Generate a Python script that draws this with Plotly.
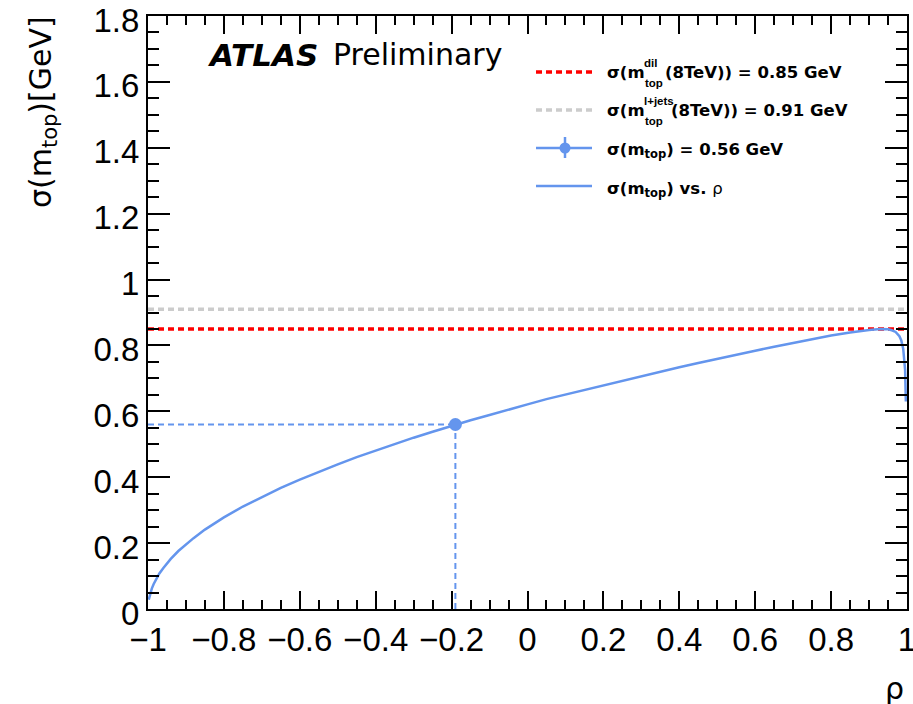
import plotly.graph_objects as go

# ---- data ----
rho = [-0.998, -0.995, -0.99, -0.985, -0.98, -0.97, -0.96, -0.94, -0.92, -0.9, -0.88, -0.85,
       -0.8, -0.75, -0.7, -0.65, -0.6, -0.55, -0.5, -0.45, -0.4, -0.35, -0.3, -0.25, -0.2,
       -0.15, -0.1, -0.05, 0.0, 0.05, 0.1, 0.15, 0.2, 0.25, 0.3, 0.35, 0.4, 0.45, 0.5, 0.55,
       0.6, 0.65, 0.7, 0.75, 0.8, 0.85, 0.88, 0.9, 0.93, 0.95, 0.96, 0.97, 0.98, 0.985, 0.99,
       0.993, 0.995, 0.997]
sigma = [0.028, 0.044, 0.062, 0.076, 0.088, 0.108, 0.124, 0.152, 0.176, 0.196, 0.215, 0.241,
         0.278, 0.311, 0.340, 0.368, 0.393, 0.417, 0.439, 0.461, 0.481, 0.501, 0.520, 0.538, 0.556,
         0.573, 0.589, 0.606, 0.621, 0.637, 0.651, 0.666, 0.680, 0.694, 0.708, 0.721, 0.734, 0.747,
         0.760, 0.772, 0.784, 0.796, 0.808, 0.819, 0.830, 0.839, 0.845, 0.847, 0.850, 0.849, 0.846,
         0.841, 0.828, 0.815, 0.790, 0.761, 0.726, 0.63]
sigma_dil = 0.85
sigma_ljets = 0.91
best_rho = -0.19
best_sigma = 0.56
x_range = [-1, 1.00001]
y_range = [0, 1.80001]

BLUE = "#6495ED"
W, H = 913, 704
L, R, T, B = 148, 907, 16, 609


def px(x):
    return (x - L) / (R - L)


def py(y):
    return (B - y) / (B - T)


fig = go.Figure()

fig.add_trace(go.Scatter(x=x_range, y=[sigma_ljets] * 2, mode="lines",
                         line=dict(color="#cccccc", width=3.5, dash="6px,4px"), showlegend=False))
fig.add_trace(go.Scatter(x=x_range, y=[sigma_dil] * 2, mode="lines",
                         line=dict(color="#ff0000", width=3.5, dash="6px,4px"), showlegend=False))
fig.add_trace(go.Scatter(x=[x_range[0], best_rho], y=[best_sigma] * 2, mode="lines",
                         line=dict(color=BLUE, width=2, dash="6px,4px"), showlegend=False))
fig.add_trace(go.Scatter(x=[best_rho, best_rho], y=[0, best_sigma], mode="lines",
                         line=dict(color=BLUE, width=2, dash="6px,4px"), showlegend=False))
fig.add_trace(go.Scatter(x=rho, y=sigma, mode="lines",
                         line=dict(color=BLUE, width=2.5), showlegend=False))
fig.add_trace(go.Scatter(x=[best_rho], y=[best_sigma], mode="markers",
                         marker=dict(color=BLUE, size=13), showlegend=False))

FONT = "DejaVu Sans, Liberation Sans, Arial, sans-serif"
SMALLF = "Liberation Sans, Arial, sans-serif"
TICKF = "Liberation Sans, Arial, Helvetica, sans-serif"
ann = []


def text(x, y, s, size, xanchor="left", yanchor="middle", angle=0, family=FONT):
    ann.append(dict(x=px(x), y=py(y), xref="paper", yref="paper", text=s, showarrow=False,
                    xanchor=xanchor, yanchor=yanchor, textangle=angle,
                    font=dict(family=family, size=size, color="black")))


# ATLAS label
text(205, 55, "<b><i>ATLAS</i></b>", 31)
text(331, 55, "Preliminary", 30)

# axis titles
text(42, 14, "σ(m<sub>top</sub>)[GeV]", 30, xanchor="center", yanchor="top", angle=-90)
text(906, 688, "ρ", 30, xanchor="right")

# legend (manual)
shapes = []


def seg(x0, y0, x1, y1, color, width, dash="solid"):
    shapes.append(dict(type="line", xref="paper", yref="paper", x0=px(x0), y0=py(y0),
                       x1=px(x1), y1=py(y1), line=dict(color=color, width=width, dash=dash)))


seg(536, 72, 592, 72, "#ff0000", 3.5, "6px,4px")
seg(536, 110, 592, 110, "#cccccc", 3.5, "6px,4px")
seg(536, 148, 592, 148, BLUE, 2.5)
seg(565, 137, 565, 158, BLUE, 2.5)
shapes.append(dict(type="circle", xref="paper", yref="paper", x0=px(559.5), x1=px(570.5),
                   y0=py(142.5), y1=py(153.5), fillcolor=BLUE, line=dict(color=BLUE, width=0)))
seg(536, 186, 592, 186, BLUE, 2.5)

LS = 16.5
SS = 11.5
text(605, 73, "<b>σ(m</b>", LS)
text(642, 63, "<b>dil</b>", SS, family=SMALLF)
text(643, 83, "<b>top</b>", SS, family=SMALLF)
text(663, 73, "<b>(8TeV)) = 0.85 GeV</b>", LS)

text(605, 111, "<b>σ(m</b>", LS)
text(642, 101, "<b>l+jets</b>", SS, family=SMALLF)
text(643, 121, "<b>top</b>", SS, family=SMALLF)
text(669, 111, "<b>(8TeV)) = 0.91 GeV</b>", LS)

text(605, 150, "<b>σ(m<sub>top</sub>) = 0.56 GeV</b>", LS)
text(605, 189, "<b>σ(m<sub>top</sub>) vs. </b>ρ", LS)

axis_common = dict(showline=True, linecolor="black", linewidth=2, mirror="allticks",
                   ticks="inside", tickwidth=1.5, tickcolor="black", showgrid=False,
                   zeroline=False, ticklabeloverflow="allow",
                   tickfont=dict(family=TICKF, size=33, color="black"))

fig.update_xaxes(range=x_range, tick0=-1, dtick=0.2, ticklen=18,
                 minor=dict(ticks="inside", ticklen=9, dtick=0.05, tickwidth=1.5, tickcolor="black"),
                 ticklabelstandoff=0, **axis_common)
fig.update_yaxes(range=y_range, tick0=0, dtick=0.2, ticklen=22,
                 minor=dict(ticks="inside", ticklen=11, dtick=0.05, tickwidth=1.5, tickcolor="black"),
                 ticklabelstandoff=0, ticklabelshift=4, **axis_common)

fig.update_layout(width=W, height=H, margin=dict(l=L, r=W - R, t=T, b=H - B, autoexpand=False),
                  plot_bgcolor="white", paper_bgcolor="white", annotations=ann, shapes=shapes,
                  showlegend=False)

fig.write_html("out.html")
